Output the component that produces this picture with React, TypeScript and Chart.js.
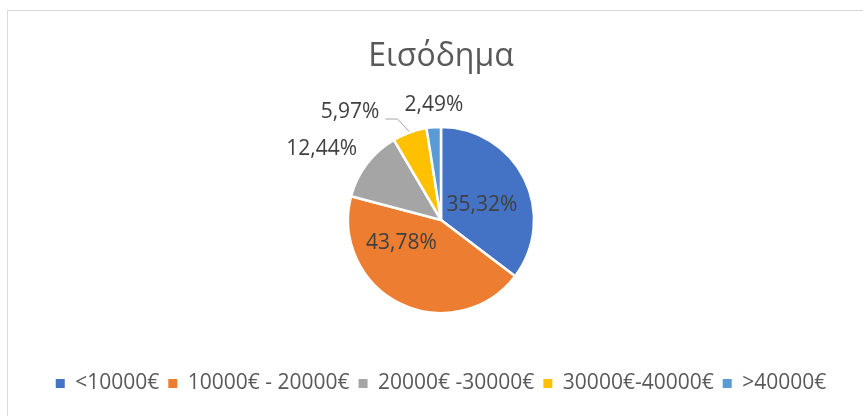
import { useEffect, useRef } from "react";
import { Chart, registerables } from "chart.js";

Chart.register(...registerables);

const chartTitle = "Εισόδημα";
const categories = ["<10000€", "10000€ - 20000€", "20000€ -30000€", "30000€-40000€", ">40000€"];
const shares = [35.32, 43.78, 12.44, 5.97, 2.49];
const sliceColors = ["#4472C4", "#ED7D31", "#A5A5A5", "#FFC000", "#5B9BD5"];

// label placement (styling): angle shift from slice middle (deg), distance as fraction of radius
const labelAngleShift = [6.9, 34.3, -6.5, -20.4, 1.0];
const labelRadius = [0.468, 0.489, 1.492, 1.518, 1.244];
const labelLeader = [false, false, false, true, false];

const FONT = '"Open Sans", "DejaVu Sans", sans-serif';

const fmt = (v: number) => v.toFixed(2).replace(".", ",") + "%";

const borderPlugin = {
  id: "outerBorder",
  beforeDraw(chart: any) {
    const ctx = chart.ctx;
    ctx.save();
    ctx.fillStyle = "#ffffff";
    ctx.fillRect(0, 0, chart.width, chart.height);
    ctx.strokeStyle = "#D9D9D9";
    ctx.lineWidth = 1;
    ctx.strokeRect(7.5, 10.5, 1000, 1000);
    ctx.restore();
  },
};

const labelPlugin = {
  id: "pieLabels",
  afterDatasetsDraw(chart: any) {
    const ctx = chart.ctx;
    const meta = chart.getDatasetMeta(0);
    const data = chart.data.datasets[0].data as number[];
    ctx.save();
    ctx.font = `21px ${FONT}`;
    ctx.fillStyle = "#404040";
    ctx.textAlign = "center";
    ctx.textBaseline = "middle";
    meta.data.forEach((arc: any, i: number) => {
      const { x, y, startAngle, endAngle, outerRadius } = arc.getProps(
        ["x", "y", "startAngle", "endAngle", "outerRadius"],
        true
      );
      const mid = (startAngle + endAngle) / 2;
      const a = mid + (labelAngleShift[i] * Math.PI) / 180;
      const d = labelRadius[i] * outerRadius;
      const lx = x + Math.cos(a) * d;
      const ly = y + Math.sin(a) * d;
      const text = fmt(data[i]);
      ctx.fillText(text, lx, ly);
      if (labelLeader[i]) {
        const w = ctx.measureText(text).width;
        const sx = lx + w / 2 + 6;
        const sy = ly + 7;
        const ex = x + Math.cos(mid) * outerRadius * 1.01;
        const ey = y + Math.sin(mid) * outerRadius * 1.01;
        ctx.strokeStyle = "#A6A6A6";
        ctx.lineWidth = 1;
        ctx.beginPath();
        ctx.moveTo(sx, sy);
        ctx.lineTo(sx + 12, sy);
        ctx.lineTo(ex, ey);
        ctx.stroke();
      }
    });
    ctx.restore();
  },
};

export default function App() {
  const ref = useRef<HTMLCanvasElement | null>(null);

  useEffect(() => {
    if (!ref.current) return;
    Chart.defaults.font.family = FONT;
    const chart = new Chart(ref.current, {
      type: "pie",
      data: {
        labels: categories,
        datasets: [
          {
            data: shares,
            backgroundColor: sliceColors,
            borderColor: "#ffffff",
            borderWidth: 2.5,
          },
        ],
      },
      options: {
        animation: false,
        responsive: false,
        devicePixelRatio: 1,
        radius: 93,
        layout: { padding: { left: 19, right: 0, top: 0, bottom: 12 } },
        plugins: {
          title: {
            display: true,
            text: chartTitle,
            color: "#595959",
            font: { family: FONT, size: 32, weight: "normal", lineHeight: 1.2 },
            padding: { top: 37.5, bottom: 0.1 },
          },
          legend: {
            position: "bottom",
            labels: {
              boxWidth: 9,
              boxHeight: 9,
              padding: 9,
              color: "#595959",
              font: { family: FONT, size: 21 },
              generateLabels: (c: any) =>
                (Chart as any).overrides.pie.plugins.legend.labels
                  .generateLabels(c)
                  .map((l: any) => ({ ...l, lineWidth: 0, strokeStyle: "rgba(0,0,0,0)" })),
            },
          },
          tooltip: { enabled: false },
        },
      } as any,
      plugins: [borderPlugin, labelPlugin],
    });
    return () => chart.destroy();
  }, []);

  return (
    <div style={{ position: "fixed", left: 0, top: 0, width: 863, height: 416, background: "#fff" }}>
      <canvas ref={ref} width={863} height={416} style={{ display: "block" }} />
    </div>
  );
}
